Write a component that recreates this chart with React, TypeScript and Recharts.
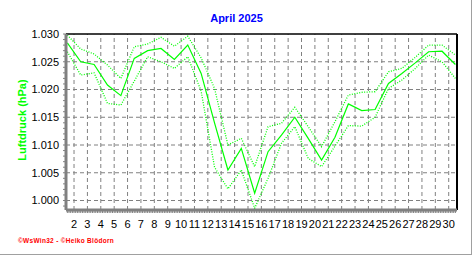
import { LineChart, Line, XAxis, YAxis, ReferenceLine } from "recharts";

// daily air pressure, April 2025 (hPa / 1000 as shown on the axis)
const days = [
  1, 2, 3, 4, 5, 6, 7, 8, 9, 10, 11, 12, 13, 14, 15,
  16, 17, 18, 19, 20, 21, 22, 23, 24, 25, 26, 27, 28, 29, 30,
];
const pressure = [
  1.0284, 1.025, 1.0245, 1.0208, 1.0189, 1.0256, 1.027, 1.0274, 1.0254, 1.028,
  1.0229, 1.014, 1.0055, 1.0094, 1.0013, 1.0088, 1.0118, 1.015, 1.0112, 1.0073,
  1.0114, 1.0174, 1.0162, 1.0164, 1.0211, 1.0229, 1.0248, 1.0268, 1.0269, 1.0245,
];
const pressureMax = [
  1.0298, 1.0273, 1.0264, 1.0244, 1.022, 1.0277, 1.0282, 1.0294, 1.0278, 1.0296,
  1.0257, 1.0202, 1.01, 1.0112, 1.0061, 1.0133, 1.0139, 1.0168, 1.0133, 1.0097,
  1.0142, 1.019, 1.0195, 1.0196, 1.0232, 1.0238, 1.0258, 1.028, 1.028, 1.0262,
];
const pressureMin = [
  1.0268, 1.0226, 1.023, 1.0175, 1.0172, 1.0215, 1.0259, 1.025, 1.0238, 1.0259,
  1.0197, 1.006, 1.0021, 1.0055, 0.9986, 1.004, 1.0103, 1.0133, 1.0076, 1.0061,
  1.0098, 1.0135, 1.0134, 1.015, 1.0202, 1.0217, 1.0238, 1.0262, 1.025, 1.022,
];
const dayLabels = [
  "2", "3", "4", "5", "6", "7", "8", "9", "10", "11", "12", "13", "14", "15", "16",
  "17", "18", "19", "20", "21", "22", "23", "24", "25", "26", "27", "28", "29", "30",
];
const yLabels = [1.0, 1.005, 1.01, 1.015, 1.02, 1.025, 1.03];

const data = days.map((d, i) => ({
  day: d,
  p: pressure[i],
  max: pressureMax[i],
  min: pressureMin[i],
}));

const X_DOMAIN: [number, number] = [0.9, 30.12];
const Y_DOMAIN: [number, number] = [0.99829, 1.03];

// day labels sit on the midnight boundary, values are plotted at noon
const boundaries = dayLabels.map((l) => Number(l) - 0.5);

// minor ticks every 3 hours
const xTicks: number[] = [];
for (let i = 8; i <= 240; i++) xTicks.push(i / 8);
const yTicks: number[] = [];
for (let i = 999; i <= 1030; i++) yTicks.push(i / 1000);

const fmtX = (v: number) => {
  const k = Math.round(v * 8);
  if (k % 8 !== 4) return "";
  const label = String((k - 4) / 8 + 1);
  return dayLabels.includes(label) ? label : "";
};
const fmtY = (v: number) => {
  const k = Math.round(v * 1000);
  return k % 5 === 0 ? (k / 1000).toFixed(3) : "";
};

const FONT = "'Liberation Sans', Arial, sans-serif";
const GREEN = "#00ff00";

export default function App() {
  return (
    <div
      style={{
        position: "absolute",
        left: 0,
        top: 0,
        width: 472,
        height: 255,
        background: "#fff",
        fontFamily: FONT,
      }}
    >
      <LineChart
        width={472}
        height={255}
        data={data}
        margin={{ top: 34, right: 15, bottom: 15, left: 6 }}
      >
        {yLabels
          .filter((v) => v < 1.03)
          .map((v) => (
            <ReferenceLine
              key={"h" + v}
              y={v}
              stroke="#808080"
              strokeDasharray="4 3"
            />
          ))}
        {boundaries.map((v) => (
          <ReferenceLine
            key={"v" + v}
            x={v}
            stroke="#808080"
            strokeDasharray="4 3"
          />
        ))}
        <ReferenceLine y={Y_DOMAIN[1]} stroke="#000" strokeWidth={1.5} />
        <ReferenceLine x={X_DOMAIN[1]} stroke="#000" strokeWidth={2} />
        <XAxis
          type="number"
          dataKey="day"
          domain={X_DOMAIN}
          allowDataOverflow
          ticks={xTicks}
          interval={0}
          tickFormatter={fmtX}
          tick={{ fill: "#000", fontSize: 11, fontFamily: FONT }}
          tickLine={{ stroke: "#808080" }}
          tickSize={3}
          tickMargin={7}
          axisLine={{ stroke: "#808080", strokeWidth: 3 }}
          height={30}
        />
        <YAxis
          type="number"
          domain={Y_DOMAIN}
          allowDataOverflow
          ticks={yTicks}
          interval={0}
          tickFormatter={fmtY}
          tick={{ fill: "#000", fontSize: 11, fontFamily: FONT }}
          tickLine={{ stroke: "#808080" }}
          tickSize={3}
          tickMargin={4}
          axisLine={{ stroke: "#808080", strokeWidth: 3 }}
          width={60}
        />
        <Line
          type="linear"
          dataKey="max"
          stroke={GREEN}
          strokeWidth={1.3}
          strokeDasharray="1 1.5"
          dot={false}
          isAnimationActive={false}
        />
        <Line
          type="linear"
          dataKey="min"
          stroke={GREEN}
          strokeWidth={1.3}
          strokeDasharray="1 1.5"
          dot={false}
          isAnimationActive={false}
        />
        <Line
          type="linear"
          dataKey="p"
          stroke={GREEN}
          strokeWidth={1.2}
          dot={false}
          isAnimationActive={false}
        />
      </LineChart>
      <svg
        width={472}
        height={255}
        style={{ position: "absolute", left: 0, top: 0, pointerEvents: "none" }}
      >
        <text
          x={236.5}
          y={22}
          textAnchor="middle"
          fontSize={11}
          fontWeight="bold"
          fill="#0000ff"
          fontFamily={FONT}
        >
          April 2025
        </text>
        <text
          transform="translate(25.5,120) rotate(-90)"
          textAnchor="middle"
          fontSize={11}
          fontWeight="bold"
          fill={GREEN}
          fontFamily={FONT}
        >
          Luftdruck (hPa)
        </text>
        <text
          x={18}
          y={242.5}
          fontSize={6.5}
          fontWeight="bold"
          fill="#ff0000"
          fontFamily={FONT}
          letterSpacing={0.3}
        >
          ©WsWin32 - ©Heiko Blödorn
        </text>
        <line x1={471.5} y1={0} x2={471.5} y2={255} stroke="#a0a0a0" />
        <line x1={0} y1={254.5} x2={472} y2={254.5} stroke="#a0a0a0" />
      </svg>
    </div>
  );
}
